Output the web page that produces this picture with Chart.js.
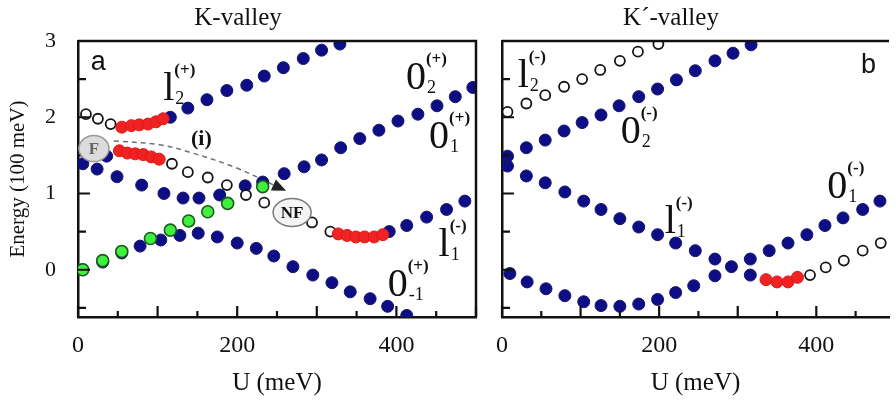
<!DOCTYPE html>
<html>
<head>
<meta charset="utf-8">
<script src="https://cdn.jsdelivr.net/npm/chart.js@4.4.1/dist/chart.umd.min.js"></script>
<style>
  html, body { margin: 0; padding: 0; background: #fff; overflow: hidden; width: 896px; height: 401px; }
  #cA { position: absolute; left: 0; top: 0; }
  #cB { position: absolute; left: 446px; top: 0; }
</style>
</head>
<body>
<canvas id="cA" width="516" height="401"></canvas>
<canvas id="cB" width="450" height="401"></canvas>
<script>
/* ---------- axes ---------- */
const xTicks  = [0, 50, 100, 150, 200, 250, 300, 350, 400, 450, 500];
const xLabels = { 0: "0", 200: "200", 400: "400" };
const yTicks  = [-0.5, 0, 0.5, 1, 1.5, 2, 2.5, 3];
const yLabels = { 0: "0", 1: "1", 2: "2", 3: "3" };

/* ---------- K-valley (panel a): [U meV, E (100 meV)] ---------- */
const kGreen     = [[6,0],[31,0.12],[55,0.24],[91,0.41],[116,0.52],[139,0.64],[163,0.76],[188,0.87],[232,1.09]];
const kBlueLow   = [[6,0],[31,0.10],[55,0.22],[78,0.31],[104,0.39],[128,0.45],[151,0.48],[175,0.43],[200,0.35],
                    [224,0.28],[246,0.18],[270,0.04],[295,-0.07],[319,-0.17],[342,-0.29],[367,-0.38],[389,-0.48],[413,-0.60]];
const kBlueZero1 = [[6,1.39],[24,1.32],[49,1.22],[80,1.11],[108,1.00],[132,0.94],[152,0.94],[178,0.98],[210,1.10],
                    [232,1.15],[259,1.26],[284,1.35],[306,1.44],[330,1.60],[354,1.72],[378,1.83],[402,1.95],[427,2.04],
                    [451,2.15],[474,2.27],[496,2.39]];
const kTopOpen   = [[10,2.04],[25,1.98],[41,1.91]];
const kTopRed    = [[55,1.87],[67,1.89],[77,1.90],[88,1.91],[98,1.94],[107,1.98]];
const kTopBlue   = [[116,2.00],[138,2.12],[162,2.23],[187,2.35],[212,2.42],[234,2.54],[258,2.65],[283,2.77],[306,2.88],[329,2.96]];
const kMidBlueA  = [[36,1.49]];
const kMidRedA   = [[52,1.56],[62,1.53],[72,1.52],[82,1.51],[92,1.48],[102,1.45]];
const kMidOpen   = [[118,1.39],[138,1.28],[163,1.21],[187,1.11],[211,0.98],[234,0.88],[266,0.75],[294,0.62],[317,0.50]];
const kMidRedB   = [[327,0.47],[338,0.45],[349,0.43],[360,0.43],[372,0.43],[383,0.46]];
const kMidBlueB  = [[391,0.50],[413,0.58],[438,0.69],[463,0.79],[486,0.90]];
const kArrowPath = [[45,1.69],[102,1.64],[144,1.53],[198,1.34],[250,1.09]];

/* ---------- K'-valley (panel b) ---------- */
const pTopOpen   = [[7,2.07],[31,2.18],[55,2.29],[79,2.40],[102,2.50],[125,2.62],[150,2.74],[173,2.86],[199,2.96]];
const pZero2     = [[7,1.49],[31,1.60],[55,1.70],[79,1.82],[102,1.93],[126,2.03],[149,2.15],[174,2.27],[198,2.37],
                    [222,2.49],[246,2.61],[271,2.74],[294,2.84],[317,2.95]];
const pOne1      = [[7,1.36],[31,1.23],[55,1.14],[80,1.02],[104,0.90],[126,0.79],[150,0.67],[174,0.56],[198,0.46],
                    [221,0.35],[246,0.25],[271,0.14],[292,0.04],[316,-0.07]];
const pRed       = [[336,-0.13],[350,-0.16],[364,-0.16],[376,-0.10]];
const pLowOpen   = [[392,-0.07],[412,0.03],[435,0.12],[459,0.25],[482,0.35]];
const pLow       = [[10,-0.05],[32,-0.16],[56,-0.25],[80,-0.34],[104,-0.42],[126,-0.47],[150,-0.48],[174,-0.45],
                    [198,-0.39],[221,-0.30],[244,-0.21],[271,-0.08],[316,0.14],[340,0.25],[364,0.35],[388,0.46],
                    [411,0.58],[434,0.68],[459,0.79],[481,0.90]];

/* ---------- text on the plots ---------- */
const kLevelLabels = [
  { u: 107, e: 2.23,  main: "l", sub: "2",  sup: "(+)" },
  { u: 412, e: 2.37,  main: "0", sub: "2",  sup: "(+)" },
  { u: 441, e: 1.60,  main: "0", sub: "1",  sup: "(+)" },
  { u: 453, e: 0.18,  main: "l", sub: "1",  sup: "(-)" },
  { u: 389, e: -0.35, main: "0", sub: "-1", sup: "(+)" }
];
const pLevelLabels = [
  { u: 20,  e: 2.40, main: "l", sub: "2", sup: "(-)" },
  { u: 151, e: 1.66, main: "0", sub: "2", sup: "(-)" },
  { u: 207, e: 0.48, main: "l", sub: "1", sup: "(-)" },
  { u: 414, e: 0.94, main: "0", sub: "1", sup: "(-)" }
];

const SERIF = '"Liberation Serif", "DejaVu Serif", serif';
const SANS  = '"Liberation Sans", Arial, sans-serif';

const pts = arr => arr.map(([x, y]) => ({ x, y }));
const blue  = d => ({ data: pts(d), backgroundColor: "#0d0d86", borderColor: "#16166a", borderWidth: 1, pointRadius: 6 });
const open  = d => ({ data: pts(d), backgroundColor: "#ffffff", borderColor: "#151515", borderWidth: 1.8, pointRadius: 5 });
const red   = d => ({ data: pts(d), backgroundColor: "#f02222", borderColor: "#dd1818", borderWidth: 1, pointRadius: 6 });
const green = d => ({ data: pts(d), backgroundColor: "#3ff03f", borderColor: "#1e5a1e", borderWidth: 1.6, pointRadius: 6 });

/* ---------- frame, inward ticks, labels ---------- */
function ellipseTag(ctx, cx, cy, rx, ry, fill, stroke, text, txtColor) {
  ctx.beginPath();
  ctx.ellipse(cx, cy, rx, ry, 0, 0, Math.PI * 2);
  ctx.fillStyle = fill; ctx.fill();
  ctx.lineWidth = 1.5; ctx.strokeStyle = stroke; ctx.stroke();
  ctx.fillStyle = txtColor;
  ctx.font = "bold 17px " + SERIF;
  ctx.textAlign = "center"; ctx.textBaseline = "middle";
  ctx.fillText(text, cx, cy + 1);
}

const decor = {
  id: "decor",
  afterDraw(chart) {
    const o = chart.config.options.decorOpts;
    const { ctx, chartArea: a, scales: { x, y } } = chart;
    const X = v => x.getPixelForValue(v), Y = v => y.getPixelForValue(v);
    ctx.save();

    // top / right frame
    ctx.strokeStyle = "#111"; ctx.lineWidth = 2.5;
    ctx.beginPath();
    ctx.moveTo(a.left, a.top); ctx.lineTo(a.right, a.top);
    if (o.rightBorder) ctx.lineTo(a.right, a.bottom);
    ctx.stroke();

    // inward tick marks
    ctx.lineWidth = 2.2;
    ctx.beginPath();
    xTicks.filter(v => v <= x.max).forEach(v => {
      const px = X(v), len = v % 100 === 0 ? 11 : 6;
      ctx.moveTo(px, a.bottom); ctx.lineTo(px, a.bottom - len);
    });
    yTicks.forEach(v => {
      const py = Y(v), len = Number.isInteger(v) ? 12 : 8;
      ctx.moveTo(a.left, py); ctx.lineTo(a.left + len, py);
    });
    ctx.stroke();

    // arrow head at end of dashed path
    if (o.arrow) {
      const n = o.arrow.length, p = o.arrow[n - 1], q = o.arrow[n - 2];
      const ex = X(p[0]), ey = Y(p[1]);
      const ang = Math.atan2(ey - Y(q[1]), ex - X(q[0]));
      ctx.save();
      ctx.translate(ex, ey); ctx.rotate(ang);
      ctx.beginPath();
      ctx.moveTo(10, 0); ctx.lineTo(-4, -6); ctx.lineTo(-4, 6); ctx.closePath();
      ctx.fillStyle = "#222"; ctx.fill();
      ctx.restore();
    }

    // F / NF tags
    (o.tags || []).forEach(t => ellipseTag(ctx, X(t.u), Y(t.e), t.rx, t.ry, t.fill, t.stroke, t.text, t.color));

    // level labels like l_2^(+)
    ctx.fillStyle = "#111"; ctx.textAlign = "left"; ctx.textBaseline = "alphabetic";
    (o.levels || []).forEach(L => {
      const px = X(L.u), py = Y(L.e);
      ctx.font = "40px " + SERIF;
      ctx.fillText(L.main, px, py);
      const w = ctx.measureText(L.main).width;
      ctx.font = "18px " + SERIF;
      ctx.fillText(L.sub, px + w + 1, py + 4);
      ctx.font = "bold 17px " + SERIF;
      ctx.fillText(L.sup, px + w, py - 25);
    });

    // free texts
    (o.texts || []).forEach(t => {
      ctx.font = t.font; ctx.fillStyle = "#111";
      ctx.fillText(t.text, X(t.u), Y(t.e));
    });
    ctx.restore();
  }
};

function makePanel(id, o) {
  return new Chart(document.getElementById(id), {
    type: "scatter",
    data: { datasets: o.datasets },
    options: {
      responsive: false, animation: false, devicePixelRatio: 1,
      decorOpts: o.decor,
      layout: { padding: { left: 0, right: o.padRight, top: 0, bottom: 0 } },
      plugins: {
        legend: { display: false }, tooltip: { enabled: false },
        title: { display: true, text: o.title, color: "#111", font: { family: SERIF, size: 25, weight: "normal" },
                 padding: { top: 3, bottom: 8 } }
      },
      scales: {
        x: {
          type: "linear", min: 0, max: o.xMax,
          afterBuildTicks: s => { s.ticks = xTicks.filter(v => v <= o.xMax).map(v => ({ value: v })); },
          afterFit: s => { s.height = 84; },
          grid: { display: false, drawTicks: false },
          border: { display: true, color: "#111", width: 2.5 },
          ticks: { color: "#111", font: { family: SERIF, size: 24 }, padding: 14, maxRotation: 0, autoSkip: false,
                   callback: v => xLabels[v] ?? "" },
          title: { display: true, text: "U (meV)", color: "#111", font: { family: SERIF, size: 25 },
                   padding: { top: 0, bottom: 3 } }
        },
        y: {
          type: "linear", min: -0.62, max: 3,
          afterBuildTicks: s => { s.ticks = yTicks.map(v => ({ value: v })); },
          afterFit: s => { s.width = o.yWidth; },
          grid: { display: false, drawTicks: false },
          border: { display: true, color: "#111", width: 2.5 },
          ticks: { display: o.yText, color: "#111", font: { family: SERIF, size: 22 }, padding: 22, autoSkip: false,
                   callback: v => yLabels[v] ?? "" },
          title: { display: o.yText, text: "Energy (100 meV)", color: "#111", font: { family: SERIF, size: 21 },
                   padding: { top: 6, bottom: 0 } }
        }
      }
    },
    plugins: [decor]
  });
}

makePanel("cA", {
  title: "K-valley", xMax: 500, yWidth: 78, padRight: 40, yText: true,
  datasets: [
    green(kGreen),
    red(kTopRed), red(kMidRedA), red(kMidRedB),
    open(kTopOpen), open(kMidOpen),
    blue(kTopBlue), blue(kMidBlueA), blue(kMidBlueB), blue(kBlueZero1), blue(kBlueLow),
    { data: pts(kArrowPath), showLine: true, tension: 0.35, pointRadius: 0, borderColor: "#707070",
      borderWidth: 1.5, borderDash: [5, 4] }
  ],
  decor: {
    rightBorder: true,
    arrow: kArrowPath,
    tags: [
      { u: 20,  e: 1.59, rx: 15, ry: 13, fill: "#dcdcdc", stroke: "#9a9a9a", text: "F",  color: "#666" },
      { u: 269, e: 0.75, rx: 19, ry: 14, fill: "#f4f4f4", stroke: "#7a7a7a", text: "NF", color: "#111" }
    ],
    levels: kLevelLabels,
    texts: [
      { text: "(i)", u: 142, e: 1.63, font: "bold 22px " + SERIF },
      { text: "a",   u: 16,  e: 2.62, font: "27px " + SANS }
    ]
  }
});

makePanel("cB", {
  title: "K\u00B4-valley", xMax: 492.5, yWidth: 56, padRight: 0, yText: false,
  datasets: [
    red(pRed),
    open(pTopOpen), open(pLowOpen),
    blue(pZero2), blue(pOne1), blue(pLow)
  ],
  decor: {
    rightBorder: false,
    levels: pLevelLabels,
    texts: [ { text: "b", u: 457, e: 2.58, font: "27px " + SANS } ]
  }
});
</script>
</body>
</html>
